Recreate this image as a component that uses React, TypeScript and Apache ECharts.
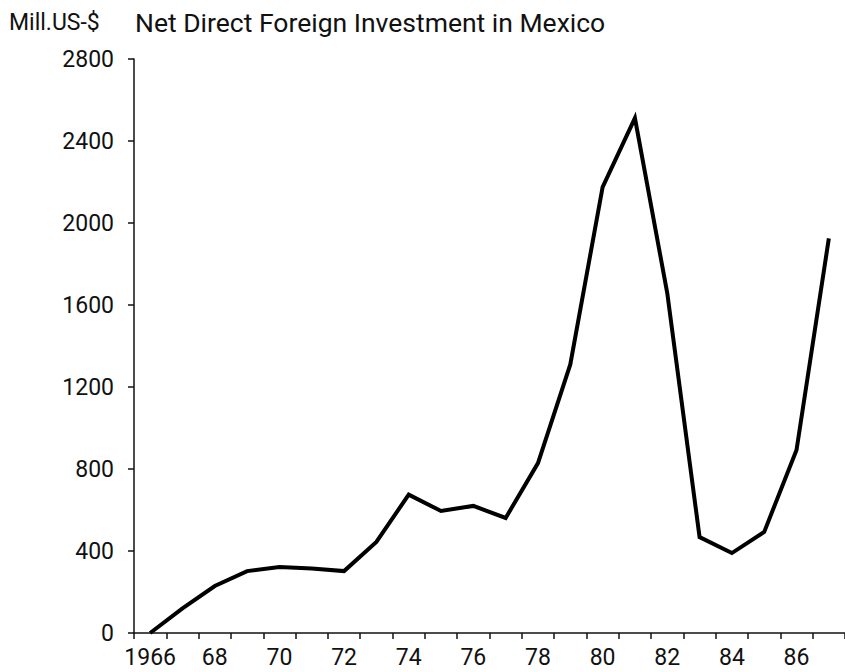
import React, { useEffect, useRef } from "react";
import * as echarts from "echarts";

const years: string[] = [
  "1966", "1967", "1968", "1969", "1970", "1971", "1972", "1973", "1974", "1975", "1976",
  "1977", "1978", "1979", "1980", "1981", "1982", "1983", "1984", "1985", "1986", "1987",
];
const investment: number[] = [
  0, 120, 229, 302, 322, 315, 302, 444, 675, 595, 620,
  561, 829, 1310, 2175, 2512, 1658, 468, 390, 493, 893, 1925,
];
const yTicks = { min: 0, max: 2800, interval: 400 };
const unitLabel = "Mill.US-$";
const titleText = "Net Direct Foreign Investment in Mexico";

const FONT = "Roboto";

export default function App() {
  const ref = useRef<HTMLDivElement>(null);
  useEffect(() => {
    if (!ref.current) return;
    const chart = echarts.init(ref.current, undefined, { renderer: "svg" });
    chart.setOption({
      animation: false,
      backgroundColor: "#ffffff",
      grid: { left: 134, top: 59, bottom: 39, right: -6, containLabel: false },
      graphic: [
        {
          type: "text",
          left: 9,
          top: 11,
          style: { text: unitLabel, font: `23px ${FONT}`, fill: "#111" },
        },
        {
          type: "text",
          left: 135,
          top: 9,
          style: { text: titleText, font: `26.5px ${FONT}`, fill: "#111" },
        },
      ],
      xAxis: {
        type: "category",
        data: years,
        boundaryGap: true,
        axisLine: { show: true, lineStyle: { color: "#111", width: 1.5 } },
        axisTick: { show: true, interval: 0, length: 6, lineStyle: { color: "#111", width: 1.5 } },
        axisLabel: {
          interval: 1,
          margin: 13,
          color: "#111",
          fontFamily: FONT,
          fontSize: 23,
          formatter: (v: string, i: number) => (i === 0 ? v : v.slice(2)),
        },
        splitLine: { show: false },
      },
      yAxis: {
        type: "value",
        min: yTicks.min,
        max: yTicks.max,
        interval: yTicks.interval,
        axisLine: { show: true, lineStyle: { color: "#111", width: 1.5 } },
        axisTick: { show: true, length: 6, lineStyle: { color: "#111", width: 1.5 } },
        axisLabel: {
          margin: 20,
          color: "#111",
          fontFamily: FONT,
          fontSize: 23,
          formatter: (v: number) => String(v),
        },
        splitLine: { show: false },
      },
      series: [
        {
          type: "line",
          data: investment,
          showSymbol: false,
          symbol: "none",
          lineStyle: { color: "#000", width: 4, join: "miter" },
        },
      ],
    });
    return () => chart.dispose();
  }, []);
  return (
    <div
      ref={ref}
      style={{ position: "absolute", left: 0, top: 0, width: 845, height: 672 }}
    />
  );
}
